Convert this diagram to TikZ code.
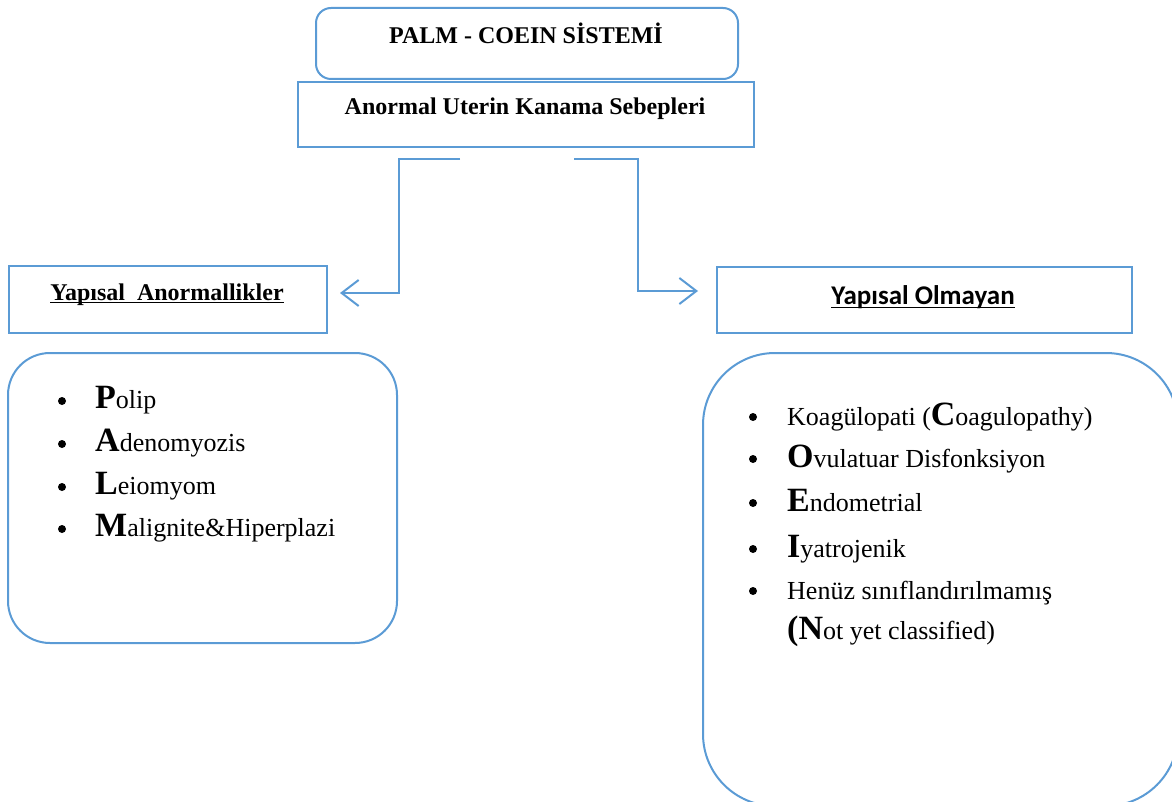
\documentclass[tikz,border=0pt]{standalone}
\usepackage{fontspec}
\setmainfont{Liberation Serif}
\newfontfamily\calibrifont{Carlito}
\usetikzlibrary{arrows.meta}
\definecolor{wordblue}{HTML}{5B9BD5}
% underline set a little below the baseline, crossing the descenders
\newcommand\hdline[1]{\setbox0\hbox{#1}\rlap{\rule[-3.2pt]{\wd0}{1.3pt}}\box0}
% big bold initial letter of a list entry
\newcommand\initial[1]{{\fontsize{34}{40}\selectfont\bfseries #1}}

\tikzset{
  frame/.style={draw=wordblue, line width=2pt, inner sep=0pt, anchor=north west},
  conn/.style={draw=wordblue, line width=2pt, -{Straight Barb[length=17pt,width=26pt,line width=2pt]}},
  headtxt/.style={anchor=base, inner sep=0pt, font=\fontsize{24}{28}\selectfont\bfseries},
  bul/.style={circle, fill=black, inner sep=0pt, minimum size=8pt},
  itm/.style={anchor=base west, inner sep=0pt, font=\fontsize{26}{30}\selectfont},
}

\begin{document}
\begin{tikzpicture}[x=1pt,y=-1pt]
\useasboundingbox (0,0) rectangle (1172,802);
\clip (0,0) rectangle (1172,802);

% title boxes
\node[frame, rounded corners=15pt, minimum width=422pt, minimum height=71pt] (title) at (315,7) {};
\node[frame, minimum width=456pt, minimum height=65pt] (cause) at (297,81) {};
\node[headtxt] (titletxt) at (526,44) {PALM - COEIN SİSTEMİ};
\node[headtxt] (causetxt) at (525,115) {Anormal Uterin Kanama Sebepleri};

% category headers
\node[frame, minimum width=318pt, minimum height=67pt] (lhead) at (8,265) {};
\node[frame, minimum width=415pt, minimum height=66pt] (rhead) at (716,266) {};
\node[headtxt] (lheadtxt) at (167,300) {\hdline{Yapısal\ \ Anormallikler}};
\node[anchor=base, inner sep=0pt, font=\fontsize{27}{32}\selectfont\calibrifont\bfseries] (rheadtxt) at (923,305) {\hdline{Yapısal Olmayan}};

% list boxes
\draw[wordblue, line width=2pt, rounded corners=42pt] (8,353) rectangle (397,643);
\draw[wordblue, line width=2pt, rounded corners=72pt] (703,353) rectangle (1178,806);

% connectors
\coordinate (lstart) at (460,159);
\coordinate (rstart) at (574,159);
\coordinate (lend) at (340,293);
\coordinate (rend) at (698,291);
\draw[conn] (lstart) -- (399,159) |- (lend);
\draw[conn] (rstart) -- (638,159) |- (rend);

% structural causes
\node[bul] (b1) at (62,401) {};
\node[itm] (p) at (95,408) {\initial{P}olip};
\node[bul] (b2) at (62,444) {};
\node[itm] (a) at (95,451) {\initial{A}denomyozis};
\node[bul] (b3) at (62,487) {};
\node[itm] (l) at (95,494) {\initial{L}eiomyom};
\node[bul] (b4) at (62,529) {};
\node[itm] (m) at (95,536) {\initial{M}alignite\&Hiperplazi};

% non-structural causes
\node[bul] (b5) at (753,417) {};
\node[itm] (c) at (787,425) {Koagülopati (\initial{C}oagulopathy)};
\node[bul] (b6) at (753,459) {};
\node[itm] (o) at (787,467) {\initial{O}vulatuar Disfonksiyon};
\node[bul] (b7) at (753,503) {};
\node[itm] (e) at (787,511) {\initial{E}ndometrial};
\node[bul] (b8) at (753,549) {};
\node[itm] (i) at (787,557) {\initial{I}yatrojenik};
\node[bul] (b9) at (753,591) {};
\node[itm] (n1) at (787,599) {Henüz sınıflandırılmamış};
\node[itm] (n2) at (787,639) {\initial{(N}ot yet classified)};
\end{tikzpicture}
\end{document}
